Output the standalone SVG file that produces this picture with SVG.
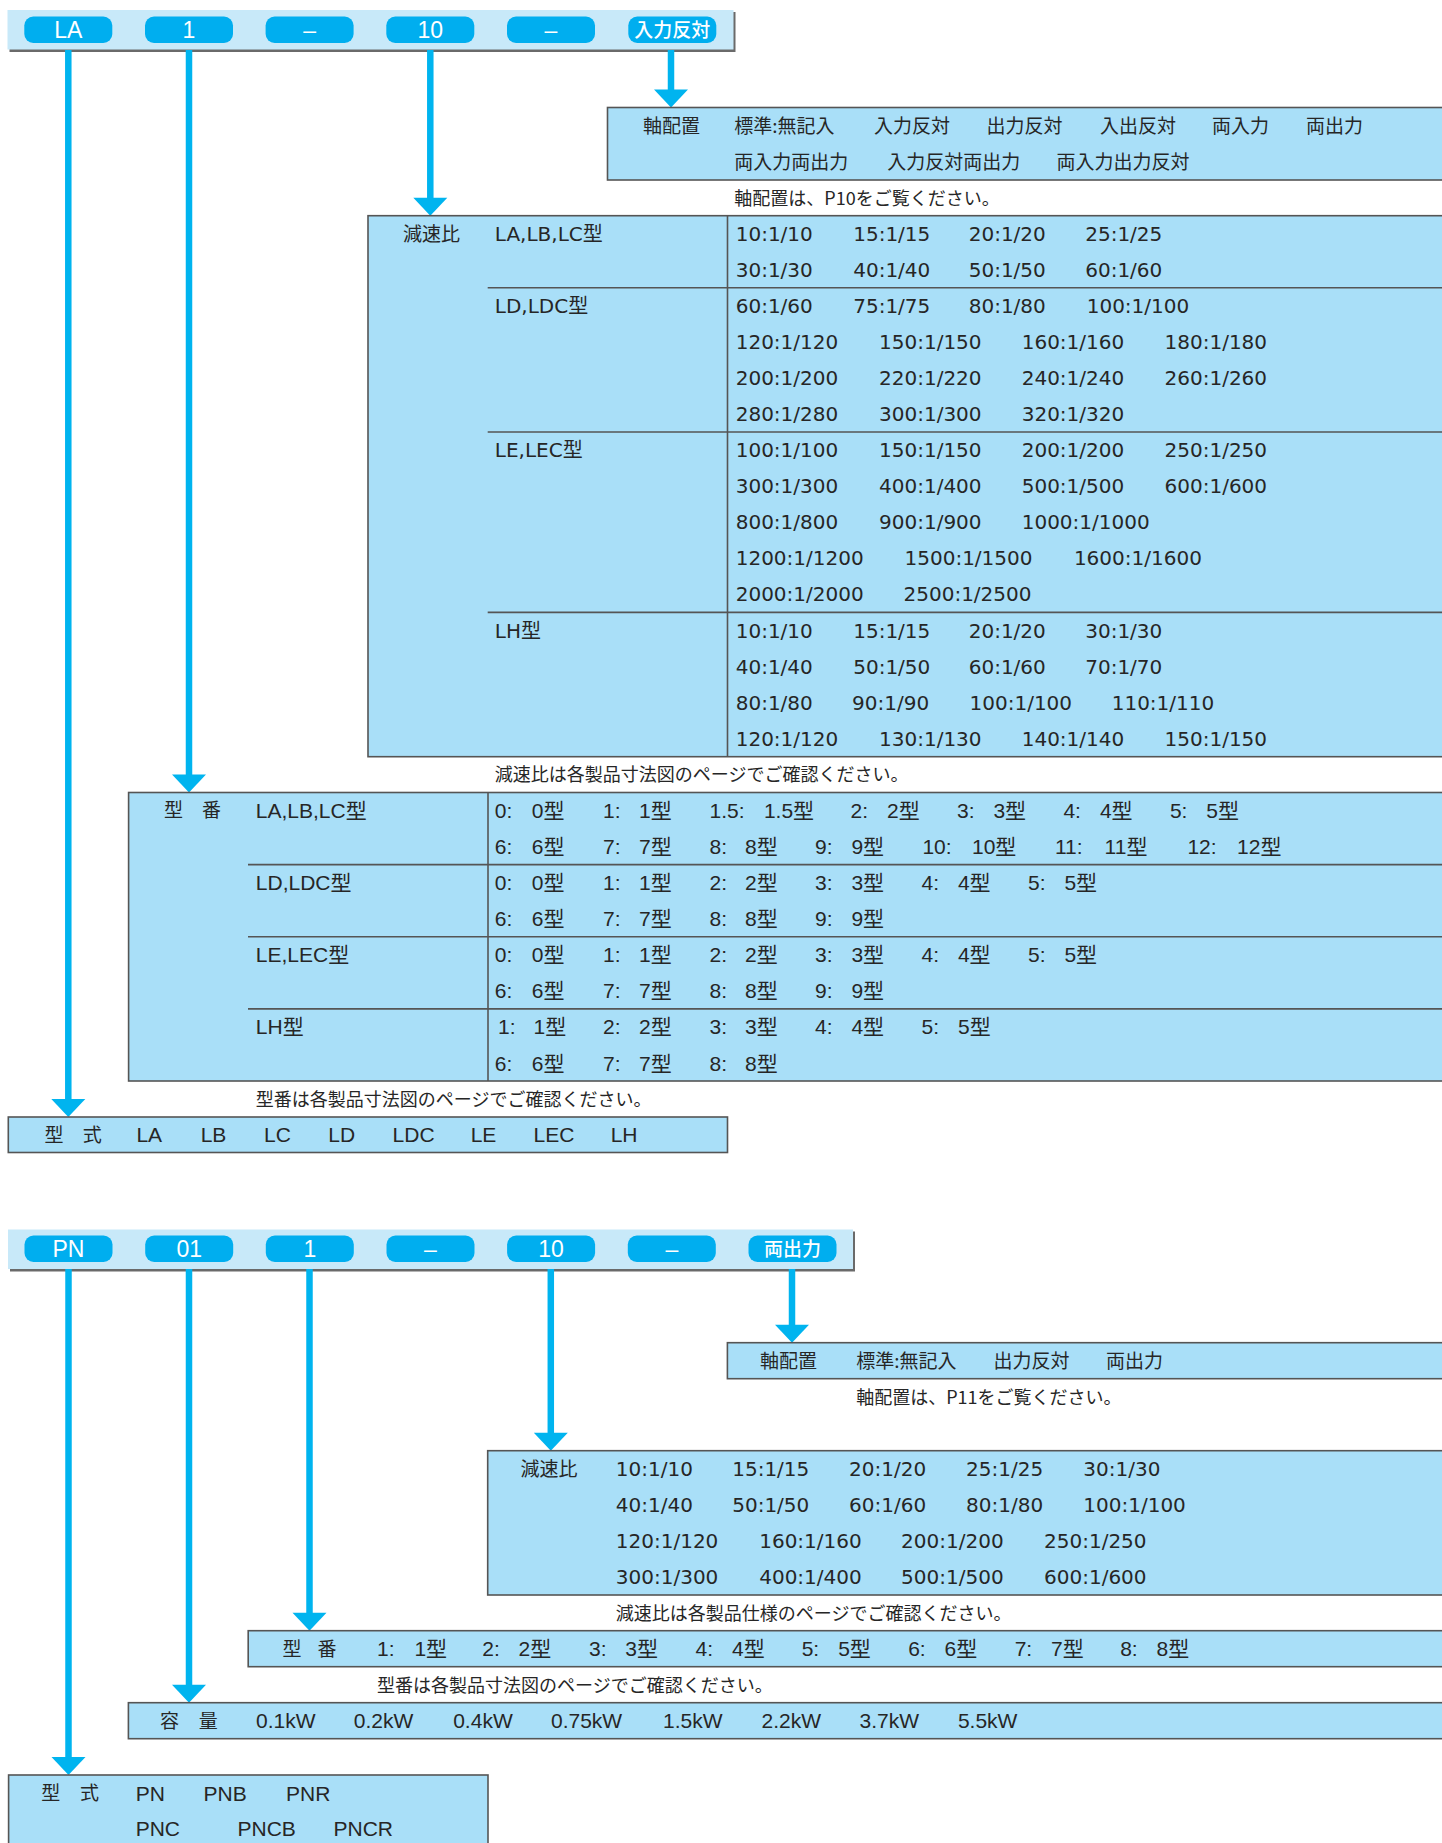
<svg xmlns="http://www.w3.org/2000/svg" width="1442" height="1843" viewBox="0 0 1442 1843">
<style>
.bg{fill:#ffffff}
.bar{fill:#c8e9f9}
.sh{fill:#6a6a6a}
.pill{fill:#00aeef}
.box{fill:#a9dff8;stroke:#555;stroke-width:1.6}
.dv{stroke:#555;stroke-width:1.6;fill:none}
.ar{stroke:#00b4ef;stroke-width:6.5;fill:none}
.ah{fill:#00b4ef}
text{fill:#262626}
.cj{font-family:"Noto Sans CJK JP",sans-serif;font-size:19px}
.nt{font-family:"Noto Sans CJK JP",sans-serif;font-size:18px}
.rt{font-family:"DejaVu Sans","Noto Sans CJK JP",sans-serif;font-size:20px}
.cd{font-family:"Liberation Sans","Noto Sans CJK JP",sans-serif;font-size:21px}
.pl{font-family:"Liberation Sans","Noto Sans CJK JP",sans-serif;font-size:23px;fill:#ffffff;text-anchor:middle}
.plj{font-family:"Noto Sans CJK JP",sans-serif;font-size:19px;fill:#ffffff;text-anchor:middle;font-weight:500}
</style>
<defs>
<polygon id="head" points="-17,-18 17,-18 0,0"/>
</defs>
<rect class="bg" x="0" y="0" width="1442" height="1843"/>

<!-- ===== Top model code bar ===== -->
<g id="bar-top">
<rect class="sh" x="9.5" y="12" width="726" height="40"/>
<rect class="bar" x="7.5" y="10" width="726" height="39.5"/>
<rect class="pill" x="24.3" y="16.5" width="88" height="26.5" rx="9"/>
<rect class="pill" x="145" y="16.5" width="88" height="26.5" rx="9"/>
<rect class="pill" x="265.6" y="16.5" width="88" height="26.5" rx="9"/>
<rect class="pill" x="386.3" y="16.5" width="88" height="26.5" rx="9"/>
<rect class="pill" x="507" y="16.5" width="88" height="26.5" rx="9"/>
<rect class="pill" x="628.3" y="16.5" width="88" height="26.5" rx="9"/>
<text class="pl" x="68.3" y="38">LA</text>
<text class="pl" x="189" y="38">1</text>
<text class="pl" x="309.6" y="38">–</text>
<text class="pl" x="430.3" y="38">10</text>
<text class="pl" x="551" y="38">–</text>
<text class="plj" x="672.3" y="36.5">入力反対</text>
</g>

<!-- ===== Top section connectors ===== -->
<g id="connectors-top">
<line class="ar" x1="68.3" y1="50" x2="68.3" y2="1100"/>
<use href="#head" class="ah" x="68.3" y="1117"/>
<line class="ar" x1="189" y1="50" x2="189" y2="776"/>
<use href="#head" class="ah" x="189" y="792.5"/>
<line class="ar" x1="430.3" y1="50" x2="430.3" y2="199"/>
<use href="#head" class="ah" x="430.3" y="215.7"/>
<line class="ar" x1="671" y1="50" x2="671" y2="91"/>
<use href="#head" class="ah" x="671" y="107.5"/>
</g>

<!-- ===== 軸配置 (top) ===== -->
<g id="node-jiku-top">
<rect class="box" x="607.5" y="107.5" width="850" height="72.5"/>
<text class="cj" x="643" y="132.5">軸配置</text>
<text class="cj" x="734.3" y="132.5">標準:無記入</text>
<text class="cj" x="874" y="132.5">入力反対</text>
<text class="cj" x="986.6" y="132.5">出力反対</text>
<text class="cj" x="1100" y="132.5">入出反対</text>
<text class="cj" x="1212" y="132.5">両入力</text>
<text class="cj" x="1306" y="132.5">両出力</text>
<text class="cj" x="734.3" y="169">両入力両出力</text>
<text class="cj" x="887.3" y="169">入力反対両出力</text>
<text class="cj" x="1056.5" y="169">両入力出力反対</text>
<text class="nt" x="734.3" y="204.8">軸配置は、P10をご覧ください。</text>
</g>

<!-- ===== 減速比 (top) ===== -->
<g id="node-gensoku-top">
<rect class="box" x="368" y="215.7" width="1090" height="541"/>
<line class="dv" x1="727.5" y1="215.7" x2="727.5" y2="756.7"/>
<line class="dv" x1="487.7" y1="287.8" x2="1450" y2="287.8"/>
<line class="dv" x1="487.7" y1="432" x2="1450" y2="432"/>
<line class="dv" x1="487.7" y1="612.4" x2="1450" y2="612.4"/>
<text class="cj" x="403" y="240.5">減速比</text>
<text class="rt" x="494.8" y="240.7">LA,LB,LC型</text>
<text class="rt" x="494.8" y="312.8">LD,LDC型</text>
<text class="rt" x="494.8" y="457.1">LE,LEC型</text>
<text class="rt" x="494.8" y="637.5">LH型</text>
<g class="rt">
<text x="735.7" y="240.7">10:1/10</text><text x="853.2" y="240.7">15:1/15</text><text x="968.7" y="240.7">20:1/20</text><text x="1085.2" y="240.7">25:1/25</text>
<text x="735.7" y="276.8">30:1/30</text><text x="853.2" y="276.8">40:1/40</text><text x="968.7" y="276.8">50:1/50</text><text x="1085.2" y="276.8">60:1/60</text>
<text x="735.7" y="312.8">60:1/60</text><text x="853.2" y="312.8">75:1/75</text><text x="968.7" y="312.8">80:1/80</text><text x="1086.7" y="312.8">100:1/100</text>
<text x="735.7" y="348.9">120:1/120</text><text x="879" y="348.9">150:1/150</text><text x="1021.7" y="348.9">160:1/160</text><text x="1164.5" y="348.9">180:1/180</text>
<text x="735.7" y="385">200:1/200</text><text x="879" y="385">220:1/220</text><text x="1021.7" y="385">240:1/240</text><text x="1164.5" y="385">260:1/260</text>
<text x="735.7" y="421.1">280:1/280</text><text x="879" y="421.1">300:1/300</text><text x="1021.7" y="421.1">320:1/320</text>
<text x="735.7" y="457.1">100:1/100</text><text x="879" y="457.1">150:1/150</text><text x="1021.7" y="457.1">200:1/200</text><text x="1164.5" y="457.1">250:1/250</text>
<text x="735.7" y="493.2">300:1/300</text><text x="879" y="493.2">400:1/400</text><text x="1021.7" y="493.2">500:1/500</text><text x="1164.5" y="493.2">600:1/600</text>
<text x="735.7" y="529.3">800:1/800</text><text x="879" y="529.3">900:1/900</text><text x="1021.7" y="529.3">1000:1/1000</text>
<text x="735.7" y="565.3">1200:1/1200</text><text x="904.5" y="565.3">1500:1/1500</text><text x="1073.9" y="565.3">1600:1/1600</text>
<text x="735.7" y="601.4">2000:1/2000</text><text x="903.5" y="601.4">2500:1/2500</text>
<text x="735.7" y="637.5">10:1/10</text><text x="853.2" y="637.5">15:1/15</text><text x="968.7" y="637.5">20:1/20</text><text x="1085.2" y="637.5">30:1/30</text>
<text x="735.7" y="673.5">40:1/40</text><text x="853.2" y="673.5">50:1/50</text><text x="968.7" y="673.5">60:1/60</text><text x="1085.2" y="673.5">70:1/70</text>
<text x="735.7" y="709.6">80:1/80</text><text x="852" y="709.6">90:1/90</text><text x="969.5" y="709.6">100:1/100</text><text x="1111.7" y="709.6">110:1/110</text>
<text x="735.7" y="745.7">120:1/120</text><text x="879" y="745.7">130:1/130</text><text x="1021.7" y="745.7">140:1/140</text><text x="1164.5" y="745.7">150:1/150</text>
</g>
<text class="nt" x="494.8" y="781">減速比は各製品寸法図のページでご確認ください。</text>
</g>

<!-- ===== 型番 (top) ===== -->
<g id="node-kataban-top">
<rect class="box" x="128.6" y="792.5" width="1330" height="288.5"/>
<line class="dv" x1="488" y1="792.5" x2="488" y2="1081"/>
<line class="dv" x1="248" y1="864.6" x2="1450" y2="864.6"/>
<line class="dv" x1="248" y1="936.7" x2="1450" y2="936.7"/>
<line class="dv" x1="248" y1="1008.9" x2="1450" y2="1008.9"/>
<text class="cj" x="164" y="817.3">型</text>
<text class="cj" x="202" y="817.3">番</text>
<g class="cd">
<text x="255.8" y="818">LA,LB,LC型</text>
<text x="255.8" y="890.2">LD,LDC型</text>
<text x="255.8" y="962.3">LE,LEC型</text>
<text x="255.8" y="1034.4">LH型</text>

<text x="494.8" y="818">0:</text><text x="531.8" y="818">0型</text>
<text x="603" y="818">1:</text><text x="639" y="818">1型</text>
<text x="709.5" y="818">1.5:</text><text x="763.9" y="818">1.5型</text>
<text x="850.5" y="818">2:</text><text x="887" y="818">2型</text>
<text x="957" y="818">3:</text><text x="993.4" y="818">3型</text>
<text x="1063.4" y="818">4:</text><text x="1099.9" y="818">4型</text>
<text x="1169.9" y="818">5:</text><text x="1206.3" y="818">5型</text>

<text x="494.8" y="854.1">6:</text><text x="531.8" y="854.1">6型</text>
<text x="603" y="854.1">7:</text><text x="639" y="854.1">7型</text>
<text x="709.5" y="854.1">8:</text><text x="745" y="854.1">8型</text>
<text x="815" y="854.1">9:</text><text x="851.4" y="854.1">9型</text>
<text x="922.4" y="854.1">10:</text><text x="972" y="854.1">10型</text>
<text x="1054.9" y="854.1">11:</text><text x="1104.6" y="854.1">11型</text>
<text x="1187.4" y="854.1">12:</text><text x="1237.1" y="854.1">12型</text>

<text x="494.8" y="890.2">0:</text><text x="531.8" y="890.2">0型</text>
<text x="603" y="890.2">1:</text><text x="639" y="890.2">1型</text>
<text x="709.5" y="890.2">2:</text><text x="745" y="890.2">2型</text>
<text x="815" y="890.2">3:</text><text x="851.4" y="890.2">3型</text>
<text x="921.5" y="890.2">4:</text><text x="957.9" y="890.2">4型</text>
<text x="1028" y="890.2">5:</text><text x="1064.4" y="890.2">5型</text>

<text x="494.8" y="926.2">6:</text><text x="531.8" y="926.2">6型</text>
<text x="603" y="926.2">7:</text><text x="639" y="926.2">7型</text>
<text x="709.5" y="926.2">8:</text><text x="745" y="926.2">8型</text>
<text x="815" y="926.2">9:</text><text x="851.4" y="926.2">9型</text>

<text x="494.8" y="962.3">0:</text><text x="531.8" y="962.3">0型</text>
<text x="603" y="962.3">1:</text><text x="639" y="962.3">1型</text>
<text x="709.5" y="962.3">2:</text><text x="745" y="962.3">2型</text>
<text x="815" y="962.3">3:</text><text x="851.4" y="962.3">3型</text>
<text x="921.5" y="962.3">4:</text><text x="957.9" y="962.3">4型</text>
<text x="1028" y="962.3">5:</text><text x="1064.4" y="962.3">5型</text>

<text x="494.8" y="998.4">6:</text><text x="531.8" y="998.4">6型</text>
<text x="603" y="998.4">7:</text><text x="639" y="998.4">7型</text>
<text x="709.5" y="998.4">8:</text><text x="745" y="998.4">8型</text>
<text x="815" y="998.4">9:</text><text x="851.4" y="998.4">9型</text>

<text x="498" y="1034.4">1:</text><text x="533.6" y="1034.4">1型</text>
<text x="603" y="1034.4">2:</text><text x="639" y="1034.4">2型</text>
<text x="709.5" y="1034.4">3:</text><text x="745" y="1034.4">3型</text>
<text x="815" y="1034.4">4:</text><text x="851.4" y="1034.4">4型</text>
<text x="921.5" y="1034.4">5:</text><text x="958" y="1034.4">5型</text>

<text x="494.8" y="1070.5">6:</text><text x="531.8" y="1070.5">6型</text>
<text x="603" y="1070.5">7:</text><text x="639" y="1070.5">7型</text>
<text x="709.5" y="1070.5">8:</text><text x="745" y="1070.5">8型</text>
</g>
<text class="nt" x="255.8" y="1105.5">型番は各製品寸法図のページでご確認ください。</text>
</g>

<!-- ===== 型式 (top) ===== -->
<g id="node-katashiki-top">
<rect class="box" x="8.3" y="1117" width="719.2" height="35.5"/>
<text class="cj" x="44.5" y="1141.6">型</text>
<text class="cj" x="82.7" y="1141.6">式</text>
<g class="cd">
<text x="136.4" y="1142.3">LA</text>
<text x="200.7" y="1142.3">LB</text>
<text x="264" y="1142.3">LC</text>
<text x="328.3" y="1142.3">LD</text>
<text x="392.6" y="1142.3">LDC</text>
<text x="470.7" y="1142.3">LE</text>
<text x="533.6" y="1142.3">LEC</text>
<text x="610.7" y="1142.3">LH</text>
</g>
</g>

<!-- ===== Bottom model code bar ===== -->
<g id="bar-bottom">
<rect class="sh" x="10" y="1231.5" width="845" height="40"/>
<rect class="bar" x="8" y="1229.5" width="845" height="39.5"/>
<rect class="pill" x="24.5" y="1235.5" width="88" height="26.5" rx="9"/>
<rect class="pill" x="145.2" y="1235.5" width="88" height="26.5" rx="9"/>
<rect class="pill" x="265.8" y="1235.5" width="88" height="26.5" rx="9"/>
<rect class="pill" x="386.5" y="1235.5" width="88" height="26.5" rx="9"/>
<rect class="pill" x="507.1" y="1235.5" width="88" height="26.5" rx="9"/>
<rect class="pill" x="627.8" y="1235.5" width="88" height="26.5" rx="9"/>
<rect class="pill" x="748.5" y="1235.5" width="88" height="26.5" rx="9"/>
<text class="pl" x="68.5" y="1257">PN</text>
<text class="pl" x="189.2" y="1257">01</text>
<text class="pl" x="309.8" y="1257">1</text>
<text class="pl" x="430.5" y="1257">–</text>
<text class="pl" x="551.1" y="1257">10</text>
<text class="pl" x="671.8" y="1257">–</text>
<text class="plj" x="792.5" y="1255.5">両出力</text>
</g>

<!-- ===== Bottom section connectors ===== -->
<g id="connectors-bottom">
<line class="ar" x1="68.5" y1="1269" x2="68.5" y2="1758"/>
<use href="#head" class="ah" x="68.5" y="1775"/>
<line class="ar" x1="189" y1="1269" x2="189" y2="1686"/>
<use href="#head" class="ah" x="189" y="1702.7"/>
<line class="ar" x1="309.5" y1="1269" x2="309.5" y2="1614"/>
<use href="#head" class="ah" x="309.5" y="1630.7"/>
<line class="ar" x1="550.8" y1="1269" x2="550.8" y2="1434"/>
<use href="#head" class="ah" x="550.8" y="1450.7"/>
<line class="ar" x1="792" y1="1269" x2="792" y2="1326"/>
<use href="#head" class="ah" x="792" y="1342.7"/>
</g>

<!-- ===== 軸配置 (bottom) ===== -->
<g id="node-jiku-bottom">
<rect class="box" x="727.4" y="1342.7" width="730" height="36"/>
<text class="cj" x="760" y="1367.5">軸配置</text>
<text class="cj" x="856.2" y="1367.5">標準:無記入</text>
<text class="cj" x="993.4" y="1367.5">出力反対</text>
<text class="cj" x="1106" y="1367.5">両出力</text>
<text class="nt" x="856.2" y="1403.5">軸配置は、P11をご覧ください。</text>
</g>

<!-- ===== 減速比 (bottom) ===== -->
<g id="node-gensoku-bottom">
<rect class="box" x="487.7" y="1450.7" width="970" height="144.3"/>
<text class="cj" x="520.6" y="1475.8">減速比</text>
<g class="rt">
<text x="615.8" y="1476">10:1/10</text><text x="732.2" y="1476">15:1/15</text><text x="849" y="1476">20:1/20</text><text x="966" y="1476">25:1/25</text><text x="1083.3" y="1476">30:1/30</text>
<text x="615.8" y="1512">40:1/40</text><text x="732.2" y="1512">50:1/50</text><text x="849" y="1512">60:1/60</text><text x="966" y="1512">80:1/80</text><text x="1083.3" y="1512">100:1/100</text>
<text x="615.8" y="1548">120:1/120</text><text x="759.2" y="1548">160:1/160</text><text x="901.1" y="1548">200:1/200</text><text x="1044" y="1548">250:1/250</text>
<text x="615.8" y="1584">300:1/300</text><text x="759.2" y="1584">400:1/400</text><text x="901.1" y="1584">500:1/500</text><text x="1044" y="1584">600:1/600</text>
</g>
<text class="nt" x="615.8" y="1619.5">減速比は各製品仕様のページでご確認ください。</text>
</g>

<!-- ===== 型番 (bottom) ===== -->
<g id="node-kataban-bottom">
<rect class="box" x="248.2" y="1630.7" width="1210" height="36"/>
<text class="cj" x="282.6" y="1655.5">型</text>
<text class="cj" x="317.5" y="1655.5">番</text>
<g class="cd">
<text x="377" y="1656.2">1:</text><text x="414.4" y="1656.2">1型</text>
<text x="482.3" y="1656.2">2:</text><text x="518.6" y="1656.2">2型</text>
<text x="589" y="1656.2">3:</text><text x="625.3" y="1656.2">3型</text>
<text x="695.5" y="1656.2">4:</text><text x="732" y="1656.2">4型</text>
<text x="801.7" y="1656.2">5:</text><text x="838.2" y="1656.2">5型</text>
<text x="908.2" y="1656.2">6:</text><text x="944.6" y="1656.2">6型</text>
<text x="1014.7" y="1656.2">7:</text><text x="1051.1" y="1656.2">7型</text>
<text x="1120.2" y="1656.2">8:</text><text x="1156.6" y="1656.2">8型</text>
</g>
<text class="nt" x="377" y="1692">型番は各製品寸法図のページでご確認ください。</text>
</g>

<!-- ===== 容量 (bottom) ===== -->
<g id="node-youryou-bottom">
<rect class="box" x="128.4" y="1702.7" width="1330" height="36"/>
<text class="cj" x="160" y="1727.5">容</text>
<text class="cj" x="198.7" y="1727.5">量</text>
<g class="cd">
<text x="256" y="1728.2">0.1kW</text>
<text x="353.8" y="1728.2">0.2kW</text>
<text x="453.2" y="1728.2">0.4kW</text>
<text x="551" y="1728.2">0.75kW</text>
<text x="663" y="1728.2">1.5kW</text>
<text x="761.5" y="1728.2">2.2kW</text>
<text x="859.5" y="1728.2">3.7kW</text>
<text x="957.9" y="1728.2">5.5kW</text>
</g>
</g>

<!-- ===== 型式 (bottom) ===== -->
<g id="node-katashiki-bottom">
<rect class="box" x="8.6" y="1775" width="479.4" height="80"/>
<text class="cj" x="41.2" y="1799.8">型</text>
<text class="cj" x="80" y="1799.8">式</text>
<g class="cd">
<text x="135.7" y="1800.5">PN</text>
<text x="203.6" y="1800.5">PNB</text>
<text x="286" y="1800.5">PNR</text>
<text x="135.7" y="1836">PNC</text>
<text x="237.5" y="1836">PNCB</text>
<text x="333.5" y="1836">PNCR</text>
</g>
</g>
</svg>
